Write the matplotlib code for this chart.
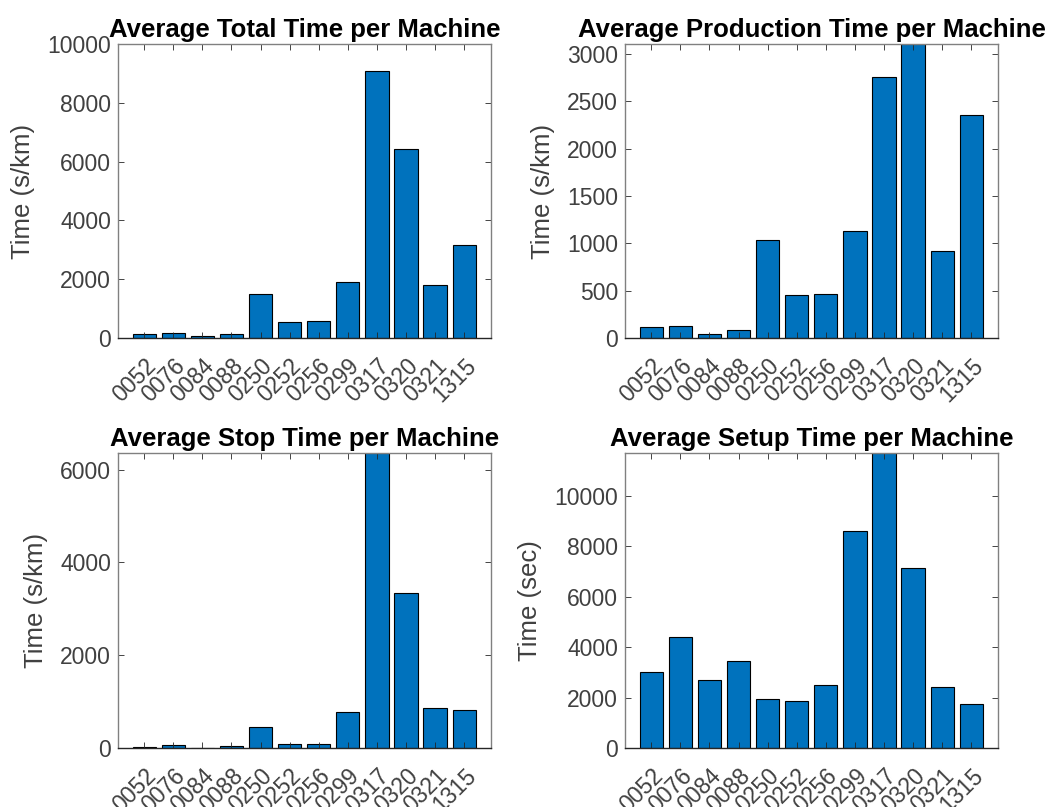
#!/usr/bin/env python3

import numpy as np
import matplotlib
matplotlib.use('Agg')
import matplotlib.pyplot as plt
from matplotlib.transforms import ScaledTranslation


machines = ['0052', '0076', '0084', '0088', '0250', '0252',
            '0256', '0299', '0317', '0320', '0321', '1315']

total_time = [145, 185, 58, 145, 1485, 555, 578, 1893, 9090, 6440, 1790, 3175]
production_time = [116, 123, 46, 88, 1040, 451, 465, 1134, 2761, 3106, 915, 2352]
stop_time = [21, 57, 7, 43, 444, 93, 93, 774, 6358, 3348, 860, 824]
setup_time = [3034, 4393, 2704, 3456, 1939, 1847, 2507, 8602, 11700, 7150, 2401, 1728]

# title, y label, data, y limit, y ticks
panels = [
    ('Average Total Time per Machine', 'Time (s/km)', total_time, 10000, np.arange(0, 10001, 2000)),
    ('Average Production Time per Machine', 'Time (s/km)', production_time, 3106, np.arange(0, 3001, 500)),
    ('Average Stop Time per Machine', 'Time (s/km)', stop_time, 6358, np.arange(0, 6001, 2000)),
    ('Average Setup Time per Machine', 'Time (sec)', setup_time, 11700, np.arange(0, 10001, 2000)),
]

# axes rectangles in figure fractions
rects = [
    [0.1117, 0.5812, 0.3532, 0.3643],
    [0.5919, 0.5812, 0.3532, 0.3643],
    [0.1117, 0.0731, 0.3532, 0.3655],
    [0.5919, 0.0731, 0.3532, 0.3655],
]

plt.rcParams['font.family'] = ['Liberation Sans', 'DejaVu Sans']
axis_gray = '#262626'
text_gray = '#404040'
bar_blue = '#0072BD'

fig = plt.figure(figsize=(10.56, 8.07), dpi=100)
# rotated tick labels sit a little right of their ticks
label_shift = ScaledTranslation(0.15, 0, fig.dpi_scale_trans)

for (title, ylabel, vals, ytop, yticks), rect in zip(panels, rects):
    ax = fig.add_axes(rect)
    x = np.arange(1, len(machines) + 1)
    ax.bar(x, vals, width=0.8, color=bar_blue, edgecolor='black', linewidth=0.8)
    ax.set_xlim(0.1, 12.92)
    ax.set_ylim(0, ytop)
    ax.set_xticks(x)
    ax.set_xticklabels(machines, rotation=45, ha='right', va='top',
                       rotation_mode='anchor', fontsize=16.5, color=text_gray)
    for lbl in ax.get_xticklabels():
        lbl.set_transform(lbl.get_transform() + label_shift)
    ax.set_yticks(yticks)
    ax.set_yticklabels([str(t) for t in yticks], fontsize=16.5, color=text_gray)
    ax.tick_params(axis='both', direction='in', length=4, width=0.6,
                   top=True, right=True, color=axis_gray)
    ax.tick_params(axis='x', pad=12)
    ax.tick_params(axis='y', pad=5)
    for sp in ax.spines.values():
        sp.set_color('#808080')
        sp.set_linewidth(1.0)
    ax.spines['bottom'].set_color(axis_gray)
    ax.set_ylabel(ylabel, fontsize=18.5, color=text_gray, labelpad=9)
    ax.set_title(title, fontsize=18.5, fontweight='bold', pad=5)

fig.savefig('out.png', dpi=100)
